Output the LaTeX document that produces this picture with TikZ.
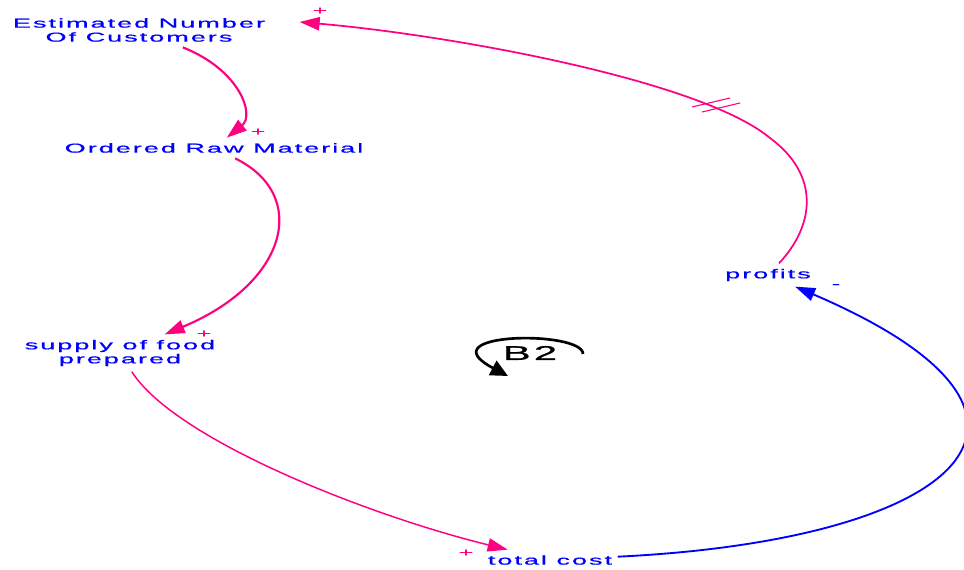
\documentclass[tikz,border=0pt]{standalone}
\usepackage{fontspec}
\newfontfamily\vfont[FakeStretch=2.1,LetterSpace=15,FakeBold=0.6]{Liberation Sans}
\usetikzlibrary{arrows.meta,calc}
\definecolor{LinkPink}{HTML}{FF0080}
\definecolor{VarBlue}{HTML}{0000FF}
\tikzset{
  var/.style={text=VarBlue,align=center,inner sep=4pt,
              font=\vfont\fontsize{9.7}{10.5}\selectfont},
  lnk/.style={-{Triangle[length=15pt,width=10pt]},line width=1.4pt,LinkPink},
  neglnk/.style={lnk,VarBlue},
  sgn/.style={inner sep=0pt,font=\vfont\fontsize{9}{9}\selectfont},
  dly/.style={LinkPink,line width=0.8pt},
  loopname/.style={inner sep=2pt,font=\vfont\fontsize{15}{15}\selectfont},
  looparr/.style={-{Triangle[length=13pt,width=12pt]},line width=2pt,black}
}
\begin{document}
\begin{tikzpicture}[x=0.75pt,y=-0.75pt]
  \useasboundingbox[fill=white] (0,0) rectangle (964,570);
  % variables
  \node[var] (est) at (139,30) {Estimated Number\\Of Customers};
  \node[var] (ord) at (214,148) {Ordered Raw Material};
  \node[var] (sup) at (120,353) {supply of food\\prepared};
  \node[var] (cost) at (550,560) {total cost};
  \node[var] (prof) at (768,275) {profits};
  \node[loopname] (b2) at (530,353) {B2};
  % links
  \draw[lnk,line width=1.6pt] (est) .. controls (240,70) and (255,115) .. (ord);
  \draw[lnk,line width=1.6pt] (ord) .. controls (310,195) and (288,283) .. (sup);
  \draw[lnk,line width=1.1pt] (sup) .. controls (175,440) and (370,516) .. (cost);
  \draw[neglnk] (cost) .. controls (960,540) and (1100,417) .. (prof);
  \draw[lnk,line width=1.3pt] (prof) .. controls (815,225) and (820,175) .. (770,138)
    .. controls (700,80) and (450,35) .. ($(est.east)+(29,-8)$);
  % delay mark
  \draw[dly] (692,107) -- (730,98);
  \draw[dly] (702,112) -- (740,103);
  % polarities
  \node[sgn,text=LinkPink] (p1) at (258,132) {+};
  \node[sgn,text=LinkPink] (p2) at (204,334) {+};
  \node[sgn,text=LinkPink] (p3) at (466,553) {+};
  \node[sgn,text=LinkPink] (p5) at (320,11) {+};
  \node[sgn,text=VarBlue] (p4) at (836,286) {-};
  % loop symbol
  \draw[looparr] (583,354) .. controls (583,330) and (425,332) .. (508,376);
\end{tikzpicture}
\end{document}
